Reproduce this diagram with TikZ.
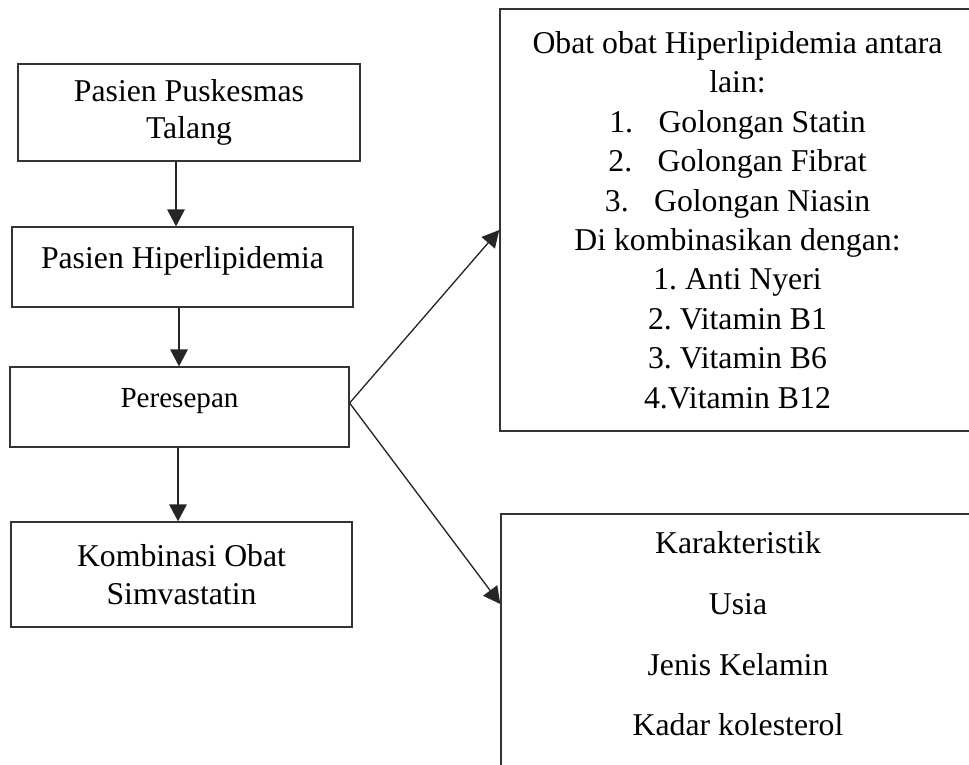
\documentclass[tikz,border=0pt]{standalone}
\usepackage{fontspec}
\setmainfont{Liberation Serif}
\usetikzlibrary{arrows.meta}
\frenchspacing

\begin{document}
\begin{tikzpicture}[x=0.378pt,y=-0.378pt]
    \tikzstyle{proc}  = [rectangle, draw=black!80, line width=0.5pt, text centered, align=center, font=\fontsize{12}{14.2}\selectfont]
    \tikzstyle{arrow} = [line width=0.5pt, draw=black!85, -{Triangle[length=6.4pt,width=6.6pt]}]
    \useasboundingbox (0,0) rectangle (969,764);
    \clip (0,0) rectangle (969,764);
    \node (pasien) [proc, minimum width=129.3pt, minimum height=36.7pt] at (189,112.5) {Pasien Puskesmas\\Talang};
    \node (hiper) [proc, minimum width=128.9pt, minimum height=30.2pt, text height=9pt, text depth=8pt] at (182.5,267) {Pasien Hiperlipidemia};
    \node (resep) [proc, minimum width=128.1pt, minimum height=30.2pt, text height=8pt, text depth=8pt, font=\fontsize{11}{13}\selectfont] at (179.5,407) {Peresepan};
    \node (kombin) [proc, minimum width=128.9pt, minimum height=39.7pt] at (181.5,574.5) {Kombinasi Obat\\Simvastatin};
    \node (obat) [proc, minimum width=179.6pt, minimum height=159.5pt, font=\fontsize{12}{14.9}\selectfont] at (737.5,220)
        {Obat obat Hiperlipidemia antara\\lain:\\1.\hspace{0.8em}Golongan Statin\\2.\hspace{0.8em}Golongan Fibrat\\3.\hspace{0.8em}Golongan Niasin\\Di kombinasikan dengan:\\1. Anti Nyeri\\2. Vitamin B1\\3. Vitamin B6\\4.Vitamin B12};
    \node (karak) [proc, minimum width=179.2pt, minimum height=108.1pt] at (738,657) {};
    \node (karaktxt) [align=center, anchor=north, font=\fontsize{12}{23}\selectfont] at (738,522)
        {Karakteristik\\Usia\\Jenis Kelamin\\Kadar kolesterol};
    \draw[arrow] (pasien.south -| 176,0) -- (hiper.north -| 176,0);
    \draw[arrow] (hiper.south -| 179,0) -- (resep.north -| 179,0);
    \draw[arrow] (resep.south -| 178,0) -- (kombin.north -| 178,0);
    \draw[arrow] ([yshift=1.5pt]resep.east) -- (obat.west |- 0,230);
    \draw[arrow] ([yshift=1.5pt]resep.east) -- (karak.west |- 0,604);
\end{tikzpicture}
\end{document}
